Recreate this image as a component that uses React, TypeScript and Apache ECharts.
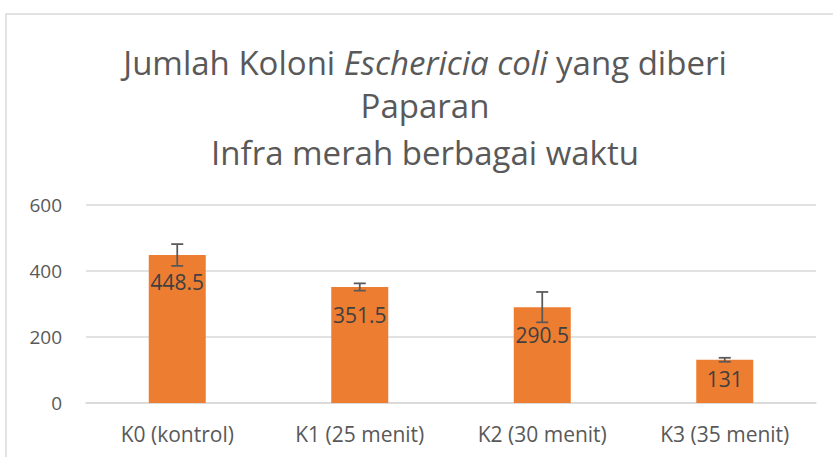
import React, { useEffect, useRef } from "react";
import * as echarts from "echarts";

const categories = ["K0 (kontrol)", "K1 (25 menit)", "K2 (30 menit)", "K3 (35 menit)"];
const values = [448.5, 351.5, 290.5, 131];
const errors = [33, 11, 46, 6];
const yTicks = { min: 0, max: 600, interval: 200 };

const FONT = "'Open Sans', Lato, sans-serif";

export default function App() {
  const ref = useRef<HTMLDivElement>(null);
  useEffect(() => {
    if (!ref.current) return;
    const chart = echarts.init(ref.current, null, { renderer: "svg" });
    const errData = values.map((v, i) => [i, v - errors[i], v + errors[i]]);
    const barData = values.map((v) =>
      v < 200 ? { value: v, label: { distance: 9 } } : { value: v }
    );
    chart.setOption({
      animation: false,
      textStyle: { fontFamily: FONT },
      graphic: [
        {
          type: "rect",
          shape: { x: 6, y: 14, width: 900, height: 500 },
          style: { fill: "none", stroke: "#d9d9d9", lineWidth: 1.5 },
          silent: true,
        },
        {
          type: "text",
          x: 425,
          y: 62,
          style: {
            text: "{n|Jumlah Koloni }{i|Eschericia coli}{n| yang diberi}",
            align: "center",
            verticalAlign: "middle",
            rich: {
              n: { fontFamily: FONT, fontSize: 33, fill: "#595959", color: "#595959" },
              i: { fontFamily: FONT, fontSize: 33, fontStyle: "italic", fill: "#595959", color: "#595959" },
            },
          },
        },
        {
          type: "text",
          x: 425,
          y: 105,
          style: {
            text: "Paparan",
            align: "center",
            verticalAlign: "middle",
            font: `33px ${FONT}`,
            fill: "#595959",
          },
        },
        {
          type: "text",
          x: 425,
          y: 152,
          style: {
            text: "Infra merah berbagai waktu",
            align: "center",
            verticalAlign: "middle",
            font: `33px ${FONT}`,
            fill: "#595959",
          },
        },
      ],
      grid: { left: 86, right: 17, top: 205, bottom: 54, containLabel: false },
      xAxis: {
        type: "category",
        data: categories,
        axisLine: { show: true, lineStyle: { color: "#d9d9d9", width: 1.5 } },
        axisTick: { show: false },
        axisLabel: { color: "#595959", fontSize: 21, fontFamily: FONT, margin: 20 },
      },
      yAxis: {
        type: "value",
        min: yTicks.min,
        max: yTicks.max,
        interval: yTicks.interval,
        axisLine: { show: false },
        axisTick: { show: false },
        splitLine: { lineStyle: { color: "#d9d9d9", width: 1.5 } },
        axisLabel: { color: "#595959", fontSize: 19, fontFamily: FONT, margin: 24 },
      },
      series: [
        {
          type: "bar",
          data: barData,
          barWidth: 57,
          itemStyle: { color: "#ED7D31" },
          label: {
            show: true,
            position: "insideTop",
            distance: 17,
            color: "#404040",
            fontSize: 21,
            fontFamily: FONT,
          },
        },
        {
          type: "custom",
          data: errData,
          z: 10,
          renderItem: (params: any, api: any) => {
            const x = api.value(0);
            const lo = api.coord([x, api.value(1)]);
            const hi = api.coord([x, api.value(2)]);
            const w = 6;
            const style = { stroke: "#595959", lineWidth: 1.75 };
            return {
              type: "group",
              children: [
                { type: "line", shape: { x1: lo[0], y1: lo[1], x2: hi[0], y2: hi[1] }, style },
                { type: "line", shape: { x1: hi[0] - w, y1: hi[1], x2: hi[0] + w, y2: hi[1] }, style },
                { type: "line", shape: { x1: lo[0] - w, y1: lo[1], x2: lo[0] + w, y2: lo[1] }, style },
              ],
            };
          },
        },
      ],
    });
    return () => chart.dispose();
  }, []);
  return <div ref={ref} style={{ width: 833, height: 457, position: "absolute", left: 0, top: 0 }} />;
}
